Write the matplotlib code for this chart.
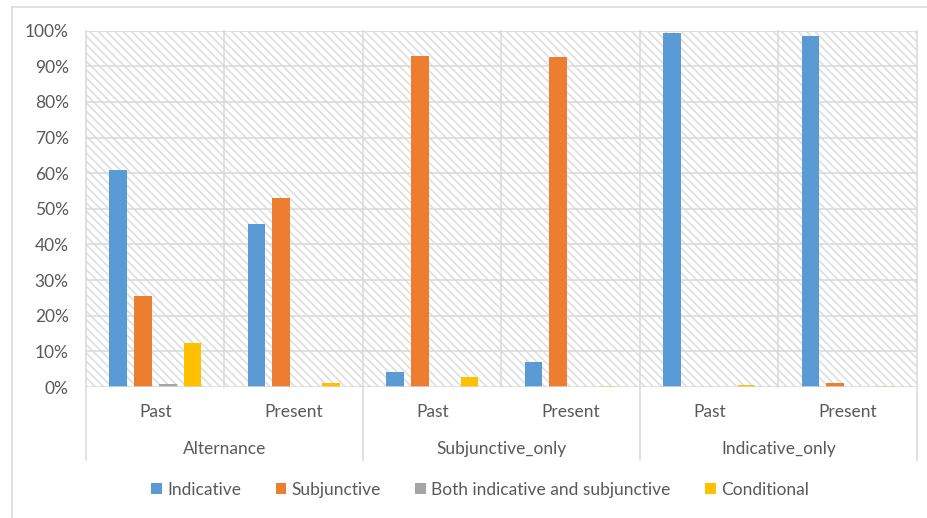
import numpy as np
import matplotlib
matplotlib.use("Agg")
import matplotlib.pyplot as plt
from matplotlib.patches import Rectangle, Patch
from matplotlib.lines import Line2D

plt.rcParams["font.family"] = ["Lato", "DejaVu Sans"]
plt.rcParams["hatch.linewidth"] = 1.3

groups = ["Alternance", "Subjunctive_only", "Indicative_only"]
tenses = ["Past", "Present"]
series = ["Indicative", "Subjunctive", "Both indicative and subjunctive", "Conditional"]
indicative = [60.8, 45.8, 4.1, 7.1, 99.3, 98.5]
subjunctive = [25.6, 53.0, 92.8, 92.5, 0.0, 1.1]
both = [0.8, 0.1, 0.1, 0.0, 0.0, 0.0]
conditional = [12.4, 1.1, 2.8, 0.3, 0.5, 0.3]
colors = ["#5B9BD5", "#ED7D31", "#A5A5A5", "#FFC000"]

grid_c = "#D9D9D9"
text_c = "#595959"
fs = 12.5

fig = plt.figure(figsize=(9.28, 5.18), dpi=100)
ax = fig.add_axes([86 / 928, 1 - 387 / 518, (917 - 86) / 928, (387 - 30.7) / 518])

# hatched plot area
ax.add_patch(Rectangle((0, 0), 1, 1, transform=ax.transAxes, facecolor="white",
                       edgecolor="#E0E0E0", linewidth=0, hatch="\\\\\\\\", zorder=0))

n = len(indicative)
x = np.arange(n) + 0.5
pitch = 0.18
width = 0.127
for i, (vals, c) in enumerate(zip([indicative, subjunctive, both, conditional], colors)):
    ax.bar(x + (i - 1.5) * pitch, vals, width=width, color=c, zorder=3)

ax.set_xlim(0, n)
ax.set_ylim(0, 100)
ax.set_yticks(np.arange(0, 101, 10))
ax.set_yticklabels([f"{v}%" for v in range(0, 101, 10)])
ax.set_xticks([])
for s in ax.spines.values():
    s.set_visible(False)
ax.tick_params(axis="y", length=0, pad=12.5, labelsize=fs, labelcolor=text_c)

for v in range(10, 101, 10):
    ax.axhline(v, color=grid_c, lw=1.1, zorder=1)
ax.axhline(0, color=grid_c, lw=1.1, zorder=4)

# category dividers; group dividers run down through the labels
low = -(460 - 387) / (387 - 30.7)
for k in range(n + 1):
    y0 = low if k % 2 == 0 else 0
    ax.add_line(Line2D([k, k], [y0, 1], transform=ax.get_xaxis_transform(),
                       color=grid_c, lw=1.1, clip_on=False, zorder=1))

tr = ax.get_xaxis_transform()
for k in range(n):
    ax.text(x[k], -(412 - 387) / 356.3, tenses[k % 2], transform=tr, ha="center",
            va="center", fontsize=fs, color=text_c)
for g, name in enumerate(groups):
    ax.text(2 * g + 1, -(449 - 387) / 356.3, name, transform=tr, ha="center",
            va="center", fontsize=fs, color=text_c)

# chart border
fig.add_artist(Line2D([12 / 928, 1], [1 - 7 / 518, 1 - 7 / 518], color=grid_c, lw=1.1))
fig.add_artist(Line2D([12 / 928, 12 / 928], [0, 1 - 7 / 518], color=grid_c, lw=1.1))

handles = [Patch(facecolor=c) for c in colors]
fig.legend(handles, series, loc="center", bbox_to_anchor=(480 / 928, 1 - 490 / 518),
           ncol=4, frameon=False, fontsize=fs, labelcolor=text_c,
           handlelength=0.6, handleheight=0.6, handletextpad=0.3, columnspacing=2.0)

fig.savefig("out.png", dpi=100)
